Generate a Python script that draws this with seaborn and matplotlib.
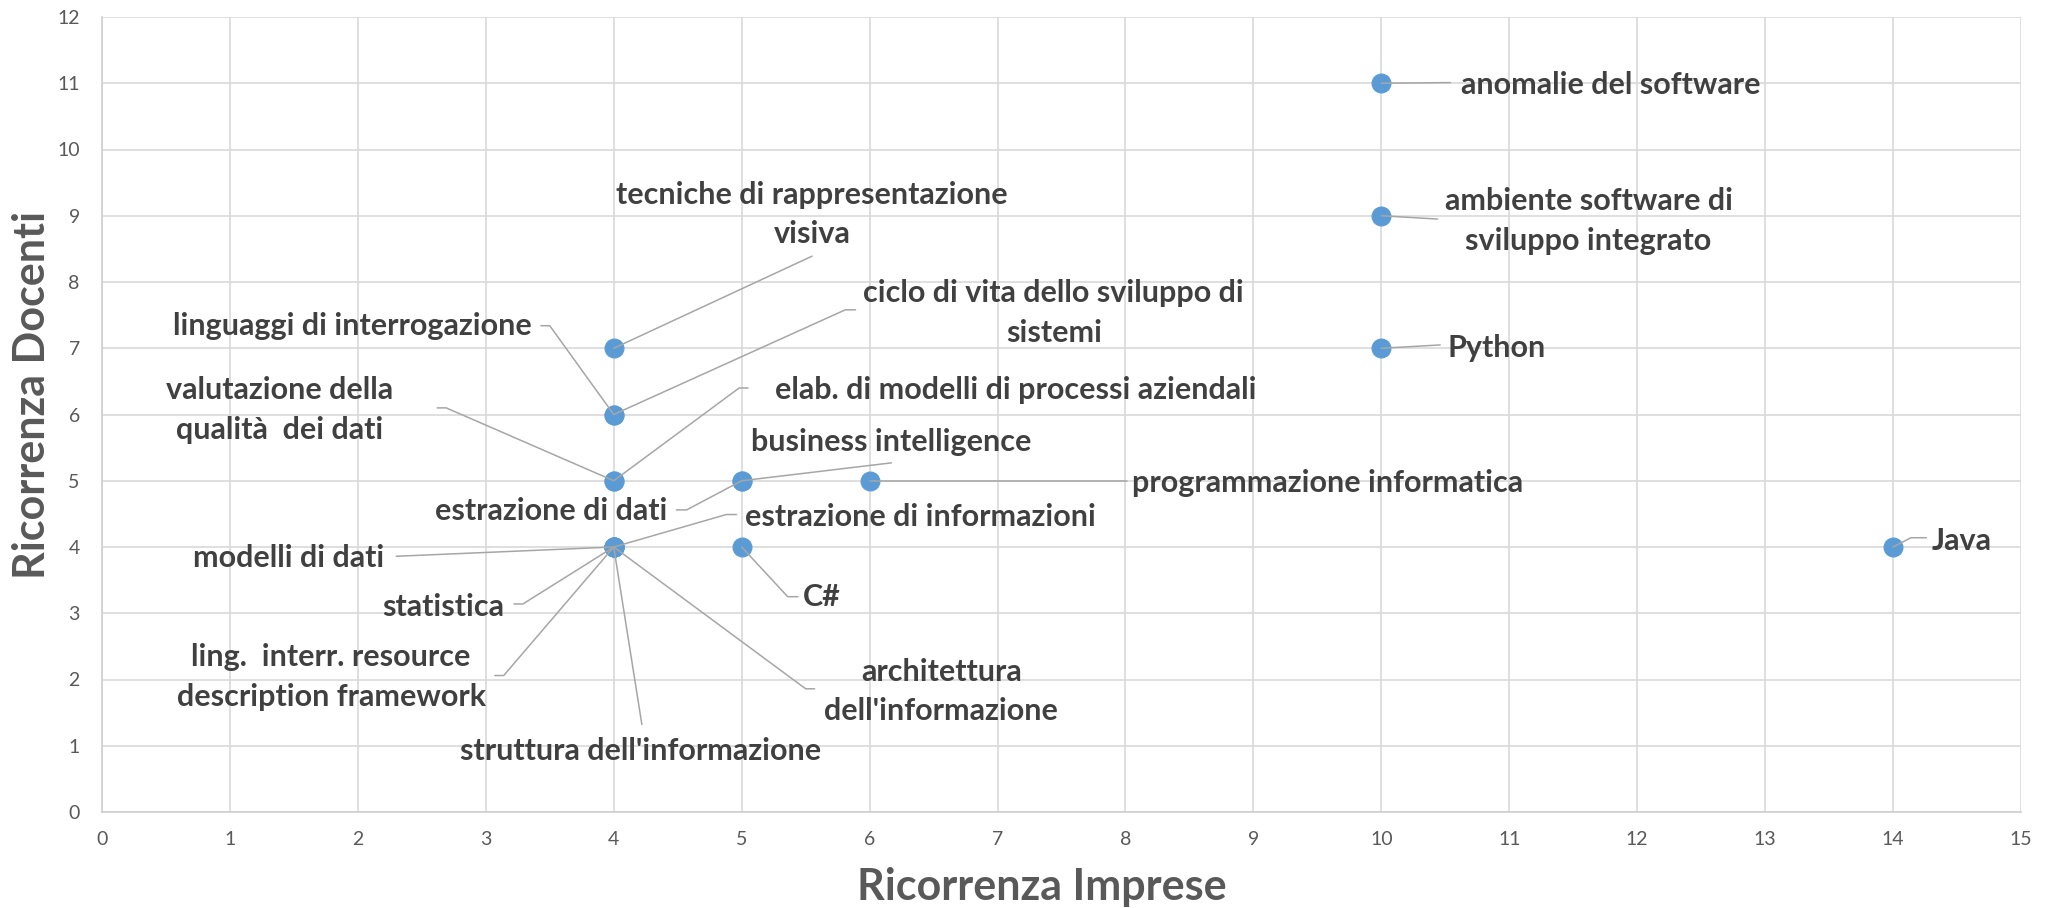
import numpy as np
import pandas as pd
import seaborn as sns
import matplotlib
matplotlib.use("Agg")
import matplotlib.pyplot as plt

# data
labels = ["tecniche di rappresentazione\nvisiva",
          "ciclo di vita dello sviluppo di\nsistemi",
          "linguaggi di interrogazione",
          "valutazione della\nqualità  dei dati",
          "elab. di modelli di processi aziendali",
          "estrazione di dati",
          "business intelligence",
          "programmazione informatica",
          "estrazione di informazioni",
          "modelli di dati",
          "statistica",
          "ling.  interr. resource\ndescription framework",
          "struttura dell'informazione",
          "architettura\ndell'informazione",
          "C#",
          "anomalie del software",
          "ambiente software di\nsviluppo integrato",
          "Python",
          "Java"]
imprese = [4, 4, 4, 4, 4, 5, 5, 6, 4, 4, 4, 4, 4, 4, 5, 10, 10, 10, 14]
docenti = [7, 6, 6, 5, 5, 5, 5, 5, 4, 4, 4, 4, 4, 4, 4, 11, 9, 7, 4]

# label placement (text centre, leader elbow, end of short horizontal tick)
text_x = [5.55, 7.44, 1.96, 1.39, 7.14, 3.51, 6.17, 9.58, 6.40, 1.46, 2.67, 1.79, 4.21, 6.56, 5.63, 11.79, 11.62, 10.90, 14.54]
text_y = [9.02, 7.53, 7.33, 6.07, 6.37, 4.54, 5.59, 4.97, 4.46, 3.83, 3.10, 2.04, 0.92, 1.82, 3.24, 10.97, 8.92, 7.00, 4.09]
elb_x = [5.55, 5.81, 3.50, 2.69, 4.98, 4.57, 6.17, 8.01, 4.88, 2.30, 3.29, 3.14, 4.22, 5.50, 5.36, 10.54, 10.44, 10.46, 14.14]
elb_y = [8.39, 7.58, 7.34, 6.10, 6.40, 4.56, 5.27, 5.00, 4.49, 3.86, 3.14, 2.06, 1.32, 1.86, 3.25, 11.01, 8.95, 7.05, 4.14]
tick_x = [None, 5.89, 3.43, 2.62, 5.05, 4.49, None, None, 4.96, None, 3.22, 3.07, None, 5.57, 5.44, None, None, None, 14.26]

df = pd.DataFrame({"Ricorrenza Imprese": imprese, "Ricorrenza Docenti": docenti})

sns.set_theme(style="whitegrid")
plt.rcParams["font.family"] = ["Lato", "DejaVu Sans"]

fig = plt.figure(figsize=(20.51, 9.08), dpi=100)
ax = fig.add_axes([102 / 2051, 96 / 908, 1919 / 2051, 795 / 908])

sns.scatterplot(data=df, x="Ricorrenza Imprese", y="Ricorrenza Docenti", ax=ax,
                s=185, color="#5b9bd5", edgecolor="#5b9bd5", linewidth=0.8, zorder=3)

lead_col = "#a6a6a6"
txt_col = "#404040"
for i, lab in enumerate(labels):
    xs = [imprese[i], elb_x[i]]
    ys = [docenti[i], elb_y[i]]
    if tick_x[i] is not None:
        xs.append(tick_x[i])
        ys.append(elb_y[i])
    ax.plot(xs, ys, color=lead_col, lw=1.1, zorder=4)
    ax.text(text_x[i], text_y[i], lab, ha="center", va="center", fontsize=22,
            fontweight="bold", color=txt_col, linespacing=1.5, zorder=5)

ax.set_xlim(0, 15)
ax.set_ylim(0, 12)
ax.set_xticks(range(0, 16))
ax.set_yticks(range(0, 13))
ax.grid(True, color="#d9d9d9", lw=1.2)
ax.tick_params(axis="both", length=0, labelsize=14, labelcolor="#595959")
ax.tick_params(axis="x", pad=14)
ax.tick_params(axis="y", pad=16)
for side in ["top", "right"]:
    ax.spines[side].set_visible(False)
for side in ["left", "bottom"]:
    ax.spines[side].set_color("#cfcfcf")
    ax.spines[side].set_linewidth(1.2)

ax.set_xlabel("Ricorrenza Imprese", fontsize=31, fontweight="bold", color="#595959")
ax.set_ylabel("Ricorrenza Docenti", fontsize=31, fontweight="bold", color="#595959")
ax.xaxis.set_label_coords(0.490, -0.094)
ax.xaxis.label.set_va("center")
ax.yaxis.set_label_coords(-0.0365, 0.525)
ax.yaxis.label.set_va("center")

fig.savefig("out.png", dpi=100, facecolor="white")
